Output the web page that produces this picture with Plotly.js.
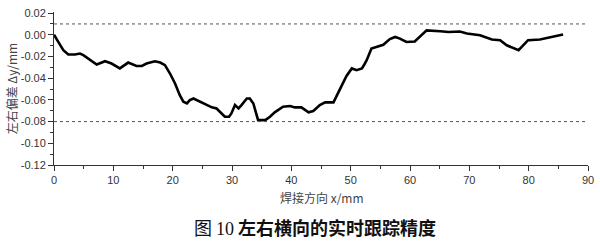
<!DOCTYPE html>
<html>
<head>
<meta charset="utf-8">
<script src="https://cdn.plot.ly/plotly-3.0.1.min.js"></script>
<style>html,body{margin:0;padding:0;background:#fff;}#chart{width:600px;height:241px;}</style>
</head>
<body>
<div id="chart"></div>
<script>
// Weld direction x (mm)
const xValues = [0, 0.17, 0.72, 1.57, 2.41, 3.54, 4.38, 4.94, 6.07, 7.2, 8.6, 9.7, 11.1, 12.5, 13.9, 14.8, 15.6, 17.0, 17.9, 18.7,
  19.55, 20.4, 21.2, 21.8, 22.4, 22.9, 23.5, 24.6, 25.7, 26.6, 27.4, 28.3, 28.8, 29.5, 29.9, 30.5, 31.1, 31.6, 32.5, 33.0,
  33.6, 34.0, 34.4, 34.7, 35.6, 36.4, 37.2, 38.6, 39.8, 40.6, 41.7, 42.9, 43.7, 44.8, 45.7, 47.1, 47.9, 48.8, 49.3, 50.2,
  51.0, 51.9, 52.3, 52.7, 53.5, 54.4, 55.5, 56.6, 57.5, 58.3, 59.4, 60.8, 62.0, 62.8, 65.1, 66.5, 68.4, 69.6, 71.8, 73.8,
  75.2, 76.3, 78.3, 79.9, 81.9, 84.2, 85.8];
// Lateral deviation Δy (mm)
const dyValues = [0.000, -0.0014, -0.0066, -0.0142, -0.0182, -0.0182, -0.0173, -0.0188, -0.0234, -0.0274, -0.0244, -0.0265, -0.031, -0.0256, -0.0287, -0.0287, -0.0265, -0.0244, -0.0256, -0.028,
  -0.0357, -0.0449, -0.0556, -0.0617, -0.0633, -0.0602, -0.0587, -0.0617, -0.0648, -0.0669, -0.0679, -0.0725, -0.0755, -0.0755, -0.0725, -0.0648, -0.0679, -0.0648, -0.0587, -0.0587,
  -0.0633, -0.071, -0.0786, -0.0786, -0.0786, -0.0755, -0.0715, -0.0663, -0.0657, -0.0669, -0.0669, -0.0715, -0.0703, -0.0648, -0.0623, -0.0623, -0.054, -0.0434, -0.0379, -0.031,
  -0.0326, -0.031, -0.0274, -0.0234, -0.0127, -0.0112, -0.0092, -0.004, -0.002, -0.0035, -0.0066, -0.0062, 0.0005, 0.0041, 0.0032, 0.0026, 0.003, 0.0011, -0.0005, -0.0044,
  -0.005, -0.0097, -0.0142, -0.005, -0.0044, -0.0014, 0.0002];
// Tolerance reference lines
const limitValues = [0.01, -0.08];
const xTickVals = [0, 10, 20, 30, 40, 50, 60, 70, 80, 90];
const yTickVals = [0.02, 0.00, -0.02, -0.04, -0.06, -0.08, -0.10, -0.12];
const yTickText = ['0.02', '0.00', '-0.02', '-0.04', '-0.06', '-0.08', '-0.10', '-0.12'];

const titleText = '图 <span style="font-family:\'Liberation Serif\'">10</span> <b>左右横向的实时跟踪精度</b>';
const xTitle = '焊接方向 x/mm';
const yTitle = '左右偏差 Δy/mm';

const trace = {
  x: xValues, y: dyValues, type: 'scatter', mode: 'lines',
  line: {color: '#000', width: 2.6}, showlegend: false, hoverinfo: 'skip'
};

const shapes = limitValues.map(v => ({
  type: 'line', xref: 'x', yref: 'y', x0: 0, x1: 89.5, y0: v, y1: v,
  line: {color: '#555', width: 1, dash: '3px,3px'}
}));

const axisFont = {family: 'Liberation Sans, Arial, sans-serif', size: 11, color: '#333'};

const layout = {
  width: 600, height: 241,
  margin: {l: 54, r: 12, t: 12, b: 76, pad: 0},
  paper_bgcolor: '#fff', plot_bgcolor: '#fff',
  showlegend: false,
  xaxis: {
    range: [0, 90], tickvals: xTickVals, ticks: 'outside', ticklen: 5, tickwidth: 1, tickcolor: '#333',
    showline: true, linecolor: '#333', linewidth: 1, showgrid: false, zeroline: false,
    tickfont: axisFont, mirror: false,
    minor: {dtick: 5, ticks: 'outside', ticklen: 3, tickcolor: '#333', showgrid: false}
  },
  yaxis: {
    range: [-0.12, 0.021], tickvals: yTickVals, ticktext: yTickText, ticks: 'outside', ticklen: 5, tickwidth: 1, tickcolor: '#333',
    showline: true, linecolor: '#333', linewidth: 1, showgrid: false, zeroline: false,
    tickfont: axisFont,
    minor: {tickvals: [0.01, -0.01, -0.03, -0.05, -0.07, -0.09, -0.11], ticks: 'outside', ticklen: 3, tickcolor: '#333', showgrid: false}
  },
  shapes: shapes,
  annotations: [
    {text: xTitle, xref: 'paper', yref: 'paper', x: 0.502, y: -0.215, xanchor: 'center', yanchor: 'middle', showarrow: false,
     font: {family: 'Noto Sans CJK SC, Liberation Sans, sans-serif', size: 12, color: '#444'}},
    {text: yTitle, xref: 'paper', yref: 'paper', x: -0.079, y: 0.5, xanchor: 'center', yanchor: 'middle', showarrow: false, textangle: -90,
     font: {family: 'Noto Sans CJK SC, Liberation Sans, sans-serif', size: 12, color: '#444'}},
    {text: titleText, xref: 'paper', yref: 'paper', x: 0.489, y: -0.404, xanchor: 'center', yanchor: 'middle', showarrow: false,
     font: {family: 'Noto Sans CJK SC, sans-serif', size: 18, color: '#111'}}
  ]
};

Plotly.newPlot('chart', [trace], layout, {staticPlot: true, displayModeBar: false});
</script>
</body>
</html>
